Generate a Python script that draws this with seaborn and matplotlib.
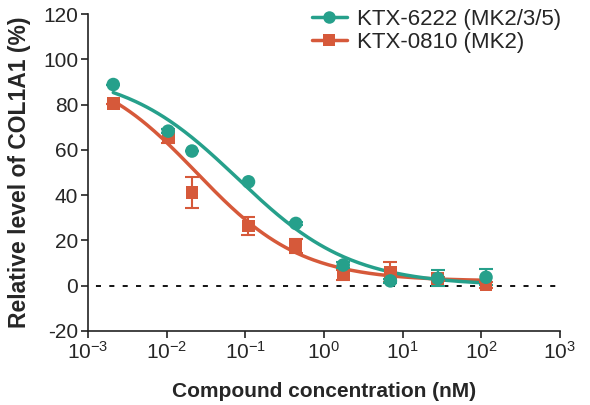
import numpy as np
import pandas as pd
import matplotlib
matplotlib.use("Agg")
import matplotlib.pyplot as plt
import seaborn as sns
from matplotlib.lines import Line2D

# ---- data ----
conc = [0.0021, 0.0105, 0.021, 0.11, 0.44, 1.76, 7.0, 28.0, 115.0]
ktx6222_mean = [88.9, 68.3, 59.5, 45.9, 27.5, 9.1, 2.1, 3.2, 3.7]
ktx6222_err = [0.0, 1.0, 0.0, 0.0, 0.5, 1.5, 1.0, 3.5, 3.5]
ktx0810_mean = [80.5, 66.2, 41.1, 26.4, 17.5, 4.7, 5.9, 3.0, 0.3]
ktx0810_err = [0.0, 3.0, 7.0, 4.0, 3.0, 2.0, 4.5, 1.0, 1.5]

# fitted 4-parameter logistic curves (bottom, top, logIC50, hill)
fit_6222 = dict(bottom=0.0, top=95.0, logic50=-1.10, hill=0.60)
fit_0810 = dict(bottom=2.0, top=98.0, logic50=-1.62, hill=0.65)

labels = ["KTX-6222 (MK2/3/5)", "KTX-0810 (MK2)"]
colors = ["#26a08b", "#d6593a"]
markers = ["o", "s"]

xticks = [1e-3, 1e-2, 1e-1, 1e0, 1e1, 1e2, 1e3]
yticks = [-20, 0, 20, 40, 60, 80, 100, 120]

sns.set_style("ticks")
plt.rcParams["font.family"] = ["Liberation Sans", "DejaVu Sans"]
plt.rcParams["mathtext.default"] = "regular"
plt.rcParams["axes.unicode_minus"] = False

fig = plt.figure(figsize=(5.9, 4.05), dpi=100)
ax = fig.add_axes([0.149, 0.183, 0.8, 0.782])

def four_pl(x, p):
    return p["bottom"] + (p["top"] - p["bottom"]) / (1 + 10 ** ((np.log10(x) - p["logic50"]) * p["hill"]))

xs = np.logspace(np.log10(conc[0]), np.log10(conc[-1]), 200)
curves = pd.concat([
    pd.DataFrame({"x": xs, "y": four_pl(xs, fit_6222), "cmp": labels[0]}),
    pd.DataFrame({"x": xs, "y": four_pl(xs, fit_0810), "cmp": labels[1]}),
])
pts = pd.concat([
    pd.DataFrame({"x": conc, "y": ktx6222_mean, "e": ktx6222_err, "cmp": labels[0]}),
    pd.DataFrame({"x": conc, "y": ktx0810_mean, "e": ktx0810_err, "cmp": labels[1]}),
])

ax.axhline(0, color="black", lw=1.3, linestyle=(3, (2.8, 4.6)), zorder=1)

# draw orange first (beneath), teal on top
for i in [1, 0]:
    lab = labels[i]
    c = curves[curves.cmp == lab]
    sns.lineplot(data=c, x="x", y="y", ax=ax, color=colors[i], lw=2.5, legend=False, zorder=2)
    p = pts[pts.cmp == lab]
    ax.errorbar(p.x, p.y, yerr=p.e, fmt="none", ecolor=colors[i], elinewidth=1.5,
                capsize=5, capthick=1.5, zorder=3)
    sns.scatterplot(data=p, x="x", y="y", ax=ax, color=colors[i], marker=markers[i],
                    s=(95 if i == 0 else 85), edgecolor="none", legend=False, zorder=4)

ax.set_xscale("log")
ax.set_xlim(1e-3, 1e3)
ax.set_ylim(-20, 120)
ax.set_xticks(xticks)
ax.xaxis.set_minor_locator(matplotlib.ticker.NullLocator())
ax.set_yticks(yticks)
ax.tick_params(axis="both", labelsize=15, length=5, width=1.2, color="#222222", pad=2)
for s in ["left", "bottom"]:
    ax.spines[s].set_linewidth(1.2)
    ax.spines[s].set_color("#222222")
sns.despine(ax=ax)

ax.set_xlabel("Compound concentration (nM)", fontsize=15, fontweight="bold", labelpad=14)
ax.set_ylabel("Relative level of COL1A1 (%)", fontsize=16.5, fontweight="bold", labelpad=9)

handles = [Line2D([0], [0], color=colors[i], lw=2.5, marker=markers[i], markersize=9,
                  markeredgewidth=0) for i in range(2)]
ax.legend(handles, labels, loc="upper right", bbox_to_anchor=(1.03, 1.06), frameon=False,
          fontsize=16, handlelength=1.55, handletextpad=0.45, labelspacing=0.1,
          borderaxespad=0.2)

fig.savefig("out.png", dpi=100)
